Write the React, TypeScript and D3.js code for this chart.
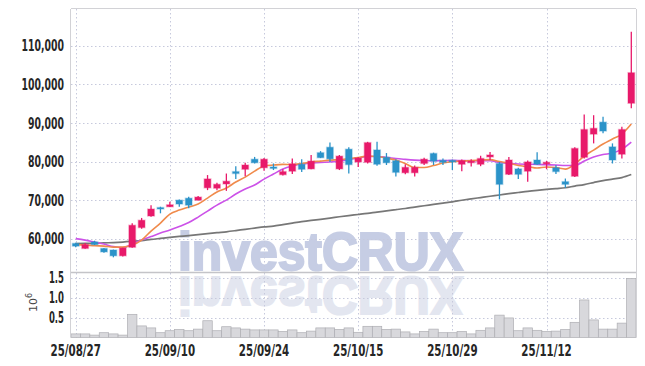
import * as d3 from 'd3'

const dates = [
  '25/08/27', '25/08/28', '25/08/29', '25/09/01', '25/09/02', '25/09/03', '25/09/04', '25/09/05', '25/09/08', '25/09/09',
  '25/09/10', '25/09/11', '25/09/12', '25/09/15', '25/09/16', '25/09/17', '25/09/18', '25/09/19', '25/09/22', '25/09/23',
  '25/09/24', '25/09/25', '25/09/26', '25/09/29', '25/09/30', '25/10/01', '25/10/02', '25/10/10', '25/10/13', '25/10/14',
  '25/10/15', '25/10/16', '25/10/17', '25/10/20', '25/10/21', '25/10/22', '25/10/23', '25/10/24', '25/10/27', '25/10/28',
  '25/10/29', '25/10/30', '25/10/31', '25/11/03', '25/11/04', '25/11/05', '25/11/06', '25/11/07', '25/11/10', '25/11/11',
  '25/11/12', '25/11/13', '25/11/14', '25/11/17', '25/11/18', '25/11/19', '25/11/20', '25/11/21', '25/11/24', '25/11/25',
]

const open = [
  58800, 57500, 59200, 57500, 57100, 55600, 57800, 62900, 65900, 68100,
  68300, 70000, 70500, 70000, 73200, 73100, 74200, 77400, 78000, 80600,
  78400, 78600, 76600, 77500, 79300, 78100, 82300, 83700, 78100, 83200,
  79900, 79800, 83000, 81100, 80200, 77100, 77100, 79500, 82100, 80300,
  80300, 79300, 79700, 79300, 81200, 79500, 76700, 78100, 77500, 80400,
  79400, 78400, 74800, 76200, 81100, 87100, 90200, 83800, 81900, 95100,
]
const high = [
  59000, 58900, 59500, 57600, 57200, 57700, 64000, 65400, 68700, 68300,
  69600, 70200, 70900, 71100, 76500, 74500, 76900, 78800, 79700, 81200,
  80900, 79500, 78000, 80800, 80600, 81700, 82700, 84900, 81700, 83700,
  81200, 85100, 85100, 82200, 80600, 79300, 79000, 81000, 82300, 80800,
  80500, 80500, 80600, 81500, 82500, 79900, 81200, 78400, 80300, 82400,
  80200, 79100, 75600, 83700, 92200, 92000, 91600, 84700, 89000, 113600,
]
const low = [
  57800, 57400, 58400, 56400, 55200, 55400, 57700, 62600, 65700, 66600,
  68200, 68300, 67900, 69900, 72600, 72600, 72400, 75500, 76200, 79500,
  77600, 77800, 76400, 76800, 77300, 78000, 80900, 79900, 77800, 76900,
  78600, 79500, 78900, 79100, 76100, 76700, 76100, 79100, 79100, 79100,
  77800, 77500, 78700, 78800, 80400, 70200, 76500, 75500, 74800, 79100,
  78000, 76800, 73200, 76000, 80800, 84700, 87300, 79500, 80800, 93800,
]
const close = [
  58100, 58500, 58500, 56600, 55600, 57600, 63500, 64800, 67700, 67800,
  68800, 69000, 68700, 70800, 75500, 74100, 74900, 76900, 79100, 79700,
  80600, 78400, 77400, 79400, 78000, 80100, 81000, 80700, 81400, 79200,
  80900, 84900, 79300, 79700, 77200, 78500, 78500, 80600, 80100, 79800,
  80100, 80200, 80100, 80800, 81700, 74100, 80400, 76700, 79900, 79300,
  79800, 77400, 74100, 83400, 88300, 88600, 87900, 80400, 88300, 103000,
]

// moving averages (5 / 20 / 120 day)
const ma5 = [
  58500, 58400, 58200, 58100, 57850, 57850, 58370, 59660, 62000, 64070,
  66400, 67430, 68210, 68990, 70540, 72100, 73130, 74690, 75980, 77530,
  78830, 79090, 79270, 79220, 79480, 79870, 80120, 80380, 80510, 80770,
  81030, 81420, 81290, 80900, 80380, 79480, 78440, 78440, 78960, 79610,
  79990, 80120, 80250, 80380, 80510, 79990, 79610, 78960, 78700, 78310,
  78570, 78440, 78050, 79350, 81420, 82970, 84530, 85820, 87120, 89710,
]
const ma20 = [
  60050, 59660, 59150, 58630, 57980, 57720, 58630, 59660, 60570, 61480,
  62250, 63160, 64200, 65620, 67170, 68730, 70020, 71580, 72870, 73910,
  75460, 76760, 78050, 78830, 79350, 79610, 79790, 79870, 80120, 80510,
  80900, 81290, 81290, 81080, 80770, 80560, 80380, 80250, 80200, 80250,
  80310, 80250, 80200, 80250, 80250, 79740, 79530, 79350, 79300, 79270,
  79170, 79090, 78960, 78960, 80120, 81160, 81810, 82200, 83230, 85050,
]
const ma120 = [
  58760, 58810, 58830, 58940, 59020, 59150, 59330, 59530, 59840, 60100,
  60360, 60600, 60830, 61090, 61320, 61580, 61810, 62120, 62460, 62770,
  63080, 63290, 63680, 64070, 64450, 64770, 65050, 65360, 65700, 66010,
  66290, 66580, 66920, 67230, 67540, 67850, 68210, 68550, 68910, 69250,
  69580, 69970, 70330, 70670, 71010, 71340, 71680, 71990, 72300, 72560,
  72790, 73000, 73210, 73650, 74040, 74560, 75070, 75460, 75850, 76630,
]

// volume in millions of shares
const volume = [
  0.09, 0.09, 0.06, 0.12, 0.09, 0.06, 0.58, 0.29, 0.24, 0.12,
  0.17, 0.2, 0.17, 0.21, 0.42, 0.17, 0.27, 0.24, 0.21, 0.19,
  0.19, 0.19, 0.15, 0.19, 0.12, 0.16, 0.24, 0.24, 0.2, 0.24,
  0.13, 0.28, 0.28, 0.2, 0.21, 0.14, 0.09, 0.15, 0.21, 0.12,
  0.12, 0.15, 0.09, 0.18, 0.24, 0.56, 0.49, 0.17, 0.24, 0.18,
  0.15, 0.16, 0.2, 0.38, 0.94, 0.44, 0.21, 0.21, 0.36, 1.48,
]

const dateTicks = ['25/08/27', '25/09/10', '25/09/24', '25/10/15', '25/10/29', '25/11/12']
const priceTicks = [60000, 70000, 80000, 90000, 100000, 110000]
const volumeTicks = [0.5, 1.0, 1.5]

const W = 645
const H = 366
const left = 71
const right = 636
const top = 9
const split = 272
const bottom = 337.5

const UP = '#e8196a'
const DOWN = '#2b93c9'
const GRID = '#c6c9dc'
const FONT = '"Liberation Sans Narrow", "DejaVu Sans Condensed", sans-serif'

// width of a label in the condensed axis font (digits wide, punctuation narrow)
const labelWidth = (s: string, digit: number, punct: number) =>
  s.split('').reduce((w, ch) => w + (/[0-9]/.test(ch) ? digit : punct), 0)

export default function App() {
  const x = d3.scaleBand().domain(dates).range([left, right]).padding(0)
  const bw = x.bandwidth()
  const cx = (i: number) => (x(dates[i]) as number) + bw / 2

  const y = d3.scaleLinear().domain([51400, 119500]).range([split, top])
  const yv = d3.scaleLinear().domain([0, 1.64]).range([bottom, split])

  const line = d3
    .line<number>()
    .x((_, i) => cx(i))
    .y((d) => y(d))
    .curve(d3.curveMonotoneX)

  const fmt = d3.format(',')
  const bodyW = bw * 0.7

  return (
    <svg width={W} height={H} style={{ position: 'absolute', left: 0, top: 0, background: '#fff' }}>
      {/* watermark */}
      <g fontFamily="'Liberation Sans', Arial, sans-serif" fontWeight="bold" fontSize={54} strokeWidth={2.2}>
        <text x={178} y={270} textLength={285} lengthAdjust="spacingAndGlyphs" fill="#c6cde4" stroke="#c6cde4">
          investCRUX
        </text>
        <text
          x={178}
          y={270}
          textLength={285}
          lengthAdjust="spacingAndGlyphs"
          fill="#e3e6f0"
          stroke="#e3e6f0"
          transform="translate(0,547) scale(1,-1)"
        >
          investCRUX
        </text>
      </g>

      {/* grid */}
      <g stroke={GRID} strokeWidth={1} strokeDasharray="1.5,2.5">
        {priceTicks.map((t) => (
          <line key={t} x1={left} x2={right} y1={Math.round(y(t)) + 0.5} y2={Math.round(y(t)) + 0.5} />
        ))}
        {volumeTicks.map((t) => (
          <line key={t} x1={left} x2={right} y1={Math.round(yv(t)) + 0.5} y2={Math.round(yv(t)) + 0.5} />
        ))}
        {dateTicks.map((d) => {
          const xx = Math.round(cx(dates.indexOf(d))) + 0.5
          return <line key={d} x1={xx} x2={xx} y1={top} y2={bottom} />
        })}
      </g>

      {/* volume bars */}
      <g fill="#d8d8dc" stroke="#aeaeb3" strokeWidth={0.7}>
        {volume.map((v, i) => (
          <rect key={i} x={x(dates[i])} y={yv(v)} width={bw} height={bottom - yv(v)} />
        ))}
      </g>

      {/* moving averages */}
      <path d={line(ma120) || ''} fill="none" stroke="#777" strokeWidth={1.7} />
      <path d={line(ma20) || ''} fill="none" stroke="#cc52e8" strokeWidth={1.6} />
      <path d={line(ma5) || ''} fill="none" stroke="#f08b4c" strokeWidth={1.6} />

      {/* candles */}
      {dates.map((d, i) => {
        const c = close[i] >= open[i] ? UP : DOWN
        const yt = y(Math.max(open[i], close[i]))
        const yb = y(Math.min(open[i], close[i]))
        return (
          <g key={d}>
            <line x1={cx(i)} x2={cx(i)} y1={y(high[i])} y2={y(low[i])} stroke={c} strokeWidth={1.3} />
            <rect
              x={cx(i) - bodyW / 2}
              y={yt}
              width={bodyW}
              height={Math.max(1.5, yb - yt)}
              fill={c}
              stroke={c}
              strokeOpacity={0.3}
              strokeWidth={1.5}
            />
          </g>
        )
      })}

      {/* frame */}
      <g stroke="#d2d2d6" strokeWidth={1} fill="none">
        <line x1={left - 0.5} x2={left - 0.5} y1={top} y2={bottom} />
        <line x1={right + 0.5} x2={right + 0.5} y1={top} y2={bottom} />
        <line x1={left} x2={right} y1={top - 0.5} y2={top - 0.5} />
        <line x1={left} x2={right} y1={split + 0.5} y2={split + 0.5} stroke="#c4c4c8" strokeWidth={1.3} />
      </g>

      {/* axes labels */}
      <g fontFamily={FONT} fontWeight="bold" fontSize={16} fill="#262626">
        {priceTicks.map((t) => (
          <text
            key={t}
            x={64}
            y={y(t)}
            dy="0.35em"
            textAnchor="end"
            textLength={labelWidth(fmt(t), 6.6, 3)}
            lengthAdjust="spacingAndGlyphs"
          >
            {fmt(t)}
          </text>
        ))}
        {volumeTicks.map((t) => (
          <text
            key={t}
            x={64}
            y={yv(t)}
            dy="0.35em"
            textAnchor="end"
            textLength={labelWidth(t.toFixed(1), 6.3, 2.5)}
            lengthAdjust="spacingAndGlyphs"
          >
            {t.toFixed(1)}
          </text>
        ))}
      </g>
      <g fontFamily={FONT} fontWeight="bold" fontSize={16.5} fill="#262626">
        {dateTicks.map((d) => (
          <text
            key={d}
            x={cx(dates.indexOf(d))}
            y={356}
            textAnchor="middle"
            textLength={labelWidth(d, 6.9, 4.5)}
            lengthAdjust="spacingAndGlyphs"
          >
            {d}
          </text>
        ))}
      </g>
      <text
        transform="translate(37,312) rotate(-90)"
        fontFamily="'DejaVu Sans', sans-serif"
        fontSize={11}
        fill="#444"
      >
        10
        <tspan dy={-5} fontSize={8}>
          6
        </tspan>
      </text>
    </svg>
  )
}
